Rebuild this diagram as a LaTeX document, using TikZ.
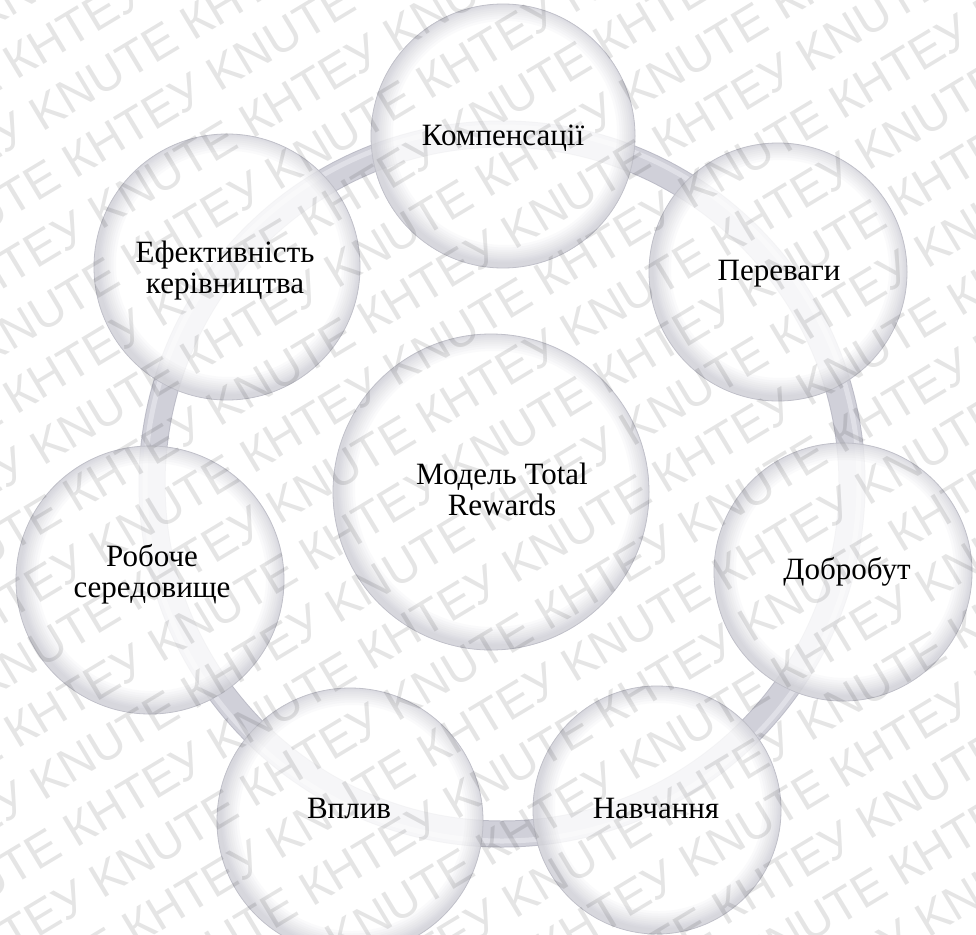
\documentclass[tikz,border=0pt]{standalone}
\usepackage{fontspec}
\setmainfont{Liberation Serif}
\newfontfamily\wmfont{Liberation Sans}
\definecolor{ringbase}{HTML}{D0D0D9}
\definecolor{ringedge}{HTML}{BDBDC8}
\definecolor{ringlight}{HTML}{E0E0E7}
\definecolor{rimshade}{HTML}{9A9AAB}
\definecolor{rimline}{HTML}{C0C0C9}
\newlength\wmper
\newcommand\wmunit{КНТЕУ KNUTE\ }
\newcommand\wmtext{\wmunit\wmunit\wmunit\wmunit\wmunit\wmunit\wmunit}
\tikzset{
  % translucent disc with a soft inner rim, heavier toward the lower left
  bubble/.style={circle, inner sep=0pt, minimum size={2*#1pt},
    fill=white, fill opacity=0.82, draw=rimline, draw opacity=1, line width=0.8pt,
    path picture={
      \foreach \w in {40,35,30,26,22,18,14,11,8,5}{
        \draw[rimshade, opacity=0.045, line width=\w pt]
          ([shift={(2,-3)}]path picture bounding box.center) circle[radius=#1pt];
      }
    }},
  lbl/.style={font=\fontsize{31}{31}\selectfont, align=center, inner sep=0pt,
    text=black, text opacity=1},
  wm/.style={font=\wmfont\fontsize{48}{48}\selectfont, rotate=31, inner sep=0pt,
    text=black, text opacity=0.1},
}
\begin{document}
\settowidth{\wmper}{\wmfont\fontsize{48}{48}\selectfont\wmunit}
\begin{tikzpicture}[x=1pt, y=-1pt]
\useasboundingbox (0,0) rectangle (976,934);
\clip (0,0) rectangle (976,934);
\fill[white] (0,0) rectangle (976,934);

% ring behind the discs
\coordinate (ring) at (502,484);
\draw[ringedge, line width=27pt] (ring) circle[radius=350pt];
\draw[ringbase, line width=25pt] (ring) circle[radius=350pt];
\draw[ringlight, line width=5pt] (ring) circle[radius=357pt];

% discs
\node[bubble=158] (c0) at (491,492) {};
\node[bubble=132] (c1) at (503,136) {};
\node[bubble=129] (c2) at (778,272) {};
\node[bubble=129] (c3) at (843,572) {};
\node[bubble=124] (c4) at (657,810) {};
\node[bubble=133] (c5) at (350,821) {};
\node[bubble=134] (c6) at (150,580) {};
\node[bubble=133] (c7) at (227,267) {};

% labels (base anchor sits on the last line)
\node[lbl, anchor=base] (t0) at (502,515) {Модель Total\\Rewards};
\node[lbl, anchor=base] (t1) at (503,145) {Компенсації};
\node[lbl, anchor=base] (t2) at (779,280) {Переваги};
\node[lbl, anchor=base] (t3) at (847,579) {Добробут};
\node[lbl, anchor=base] (t4) at (656,818) {Навчання};
\node[lbl, anchor=base] (t5) at (349,818) {Вплив};
\node[lbl, anchor=base] (t6) at (152,597) {Робоче\\середовище};
\node[lbl, anchor=base] (t7) at (225,293) {Ефективність\\керівництва};

% diagonal watermark rows, every other row shifted by half a period
\pgfmathsetmacro{\per}{\wmper}
\foreach \k in {-21,...,6}{
  \pgfmathsetmacro{\nb}{1094+57.4*\k+17}
  \pgfmathsetmacro{\al}{316+abs(mod(\k,2))*\per/2-3*\per}
  \pgfmathsetmacro{\xx}{\al*0.857+\nb*0.515}
  \pgfmathsetmacro{\yy}{-\al*0.515+\nb*0.857}
  \node[wm, anchor=base west] (wm\k) at (\xx,\yy) {\wmtext};
}
\end{tikzpicture}
\end{document}
